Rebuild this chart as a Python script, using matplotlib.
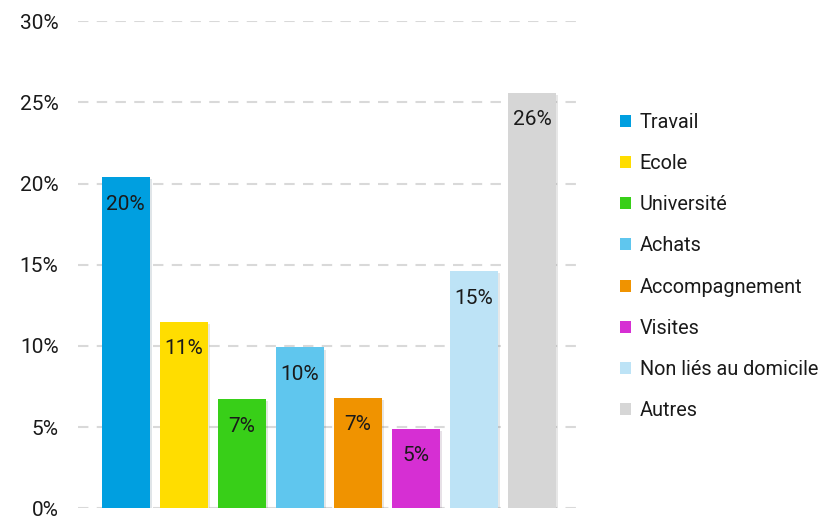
import matplotlib.pyplot as plt
import matplotlib.patheffects as pe
from matplotlib.patches import Patch

# motifs de déplacement
categories = ['Travail', 'Ecole', 'Université', 'Achats', 'Accompagnement',
              'Visites', 'Non liés au domicile', 'Autres']
values = [20.4, 11.5, 6.7, 9.9, 6.8, 4.9, 14.6, 25.6]
labels = ['20%', '11%', '7%', '10%', '7%', '5%', '15%', '26%']
colors = ['#009FE0', '#FFDD00', '#38CF18', '#5FC6EE', '#F09300',
          '#D62FD3', '#BDE3F6', '#D6D6D6']
yticks = [0, 5, 10, 15, 20, 25, 30]

plt.rcParams['font.family'] = ['Roboto', 'DejaVu Sans']

fig = plt.figure(figsize=(8.21, 5.18), dpi=100)
ax = fig.add_axes([0.095, 0.019, 0.611, 0.94])

x = range(len(categories))
bars = ax.bar(x, values, width=0.83, color=colors, zorder=3)
for b in bars:
    b.set_path_effects([pe.SimplePatchShadow(offset=(1.5, -1.5), alpha=0.12),
                        pe.Normal()])

for xi, v, lab in zip(x, values, labels):
    ax.annotate(lab, (xi, v), xytext=(0, -27), textcoords='offset pixels',
                ha='center', va='center', fontsize=15, color='#1a1a1a',
                zorder=4)

ax.set_ylim(0, 30)
ax.set_xlim(-0.82, 7.82)
ax.set_yticks(yticks)
ax.set_yticklabels([f'{t}%' for t in yticks], fontsize=15, color='#1a1a1a')
ax.set_xticks([])
ax.tick_params(axis='y', length=0, pad=14)
ax.yaxis.grid(True, linestyle=(0, (5, 4)), color='#D9D9D9', linewidth=1.5,
              zorder=0)
for s in ax.spines.values():
    s.set_visible(False)

handles = [Patch(facecolor=c, label=n) for c, n in zip(colors, categories)]
fig.legend(handles=handles, loc='upper left', bbox_to_anchor=(0.733, 0.817),
           frameon=False, fontsize=14.3, handlelength=0.55, handleheight=0.55,
           handletextpad=0.45, labelspacing=1.12, labelcolor='#1a1a1a')

fig.savefig('out.png', dpi=100)
